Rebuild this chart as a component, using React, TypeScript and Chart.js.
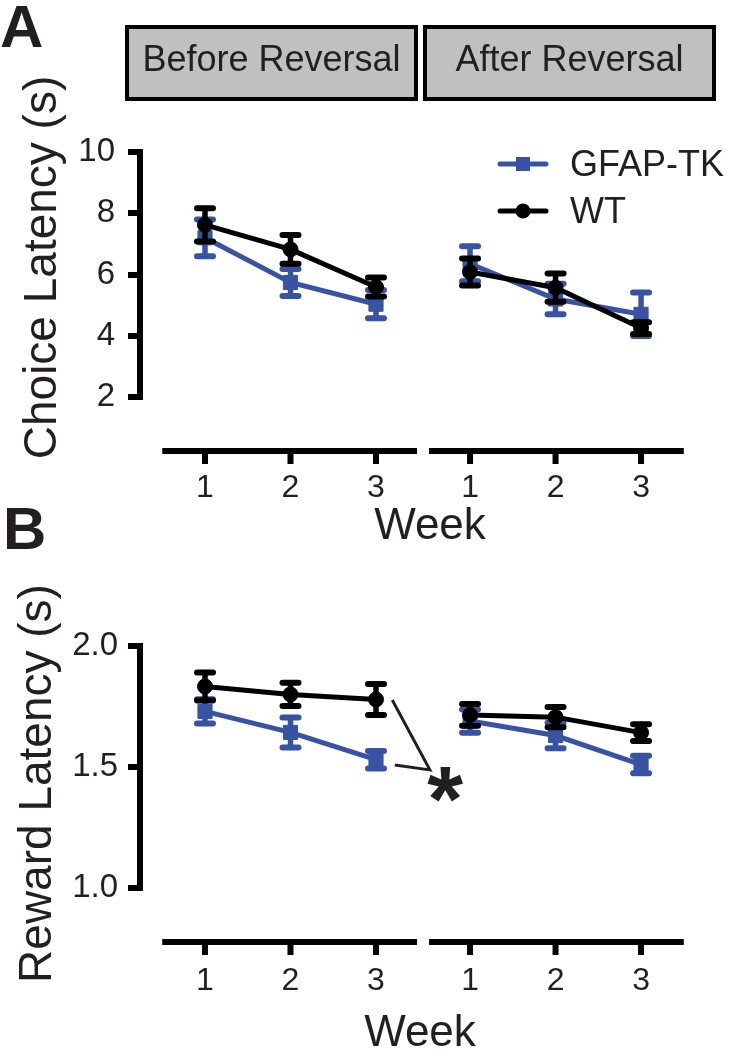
import React, { useEffect, useRef } from "react";
import { Chart, registerables } from "chart.js";

Chart.register(...registerables);

// ---------------- data ----------------
const weekTickLabels = ["1", "2", "3", "1", "2", "3"];
const beforeWeeks = [1, 2, 3];
const afterWeeks = [4.1, 5.1, 6.1];
const weekPositions = [...beforeWeeks, ...afterWeeks];

const choiceYTicks = [2, 4, 6, 8, 10];
const rewardYTicks = [1.0, 1.5, 2.0];

const choiceGfapBefore = [7.2, 5.74, 5.03];
const choiceGfapBeforeSem = [0.6, 0.44, 0.46];
const choiceGfapAfter = [6.35, 5.2, 4.7];
const choiceGfapAfterSem = [0.57, 0.5, 0.71];
const choiceWtBefore = [7.62, 6.82, 5.59];
const choiceWtBeforeSem = [0.54, 0.47, 0.31];
const choiceWtAfter = [6.08, 5.57, 4.25];
const choiceWtAfterSem = [0.44, 0.46, 0.19];

const rewardGfapBefore = [1.73, 1.643, 1.53];
const rewardGfapBeforeSem = [0.05, 0.062, 0.036];
const rewardGfapAfter = [1.69, 1.63, 1.51];
const rewardGfapAfterSem = [0.048, 0.053, 0.036];
const rewardWtBefore = [1.833, 1.8, 1.779];
const rewardWtBeforeSem = [0.058, 0.048, 0.064];
const rewardWtAfter = [1.715, 1.706, 1.642];
const rewardWtAfterSem = [0.045, 0.042, 0.035];

const headerLabels = ["Before Reversal", "After Reversal"];
const seriesNames = ["GFAP-TK", "WT"];

// significance annotation (value space of panel B)
const sigBracket = [
  [3.19, 1.777],
  [3.63, 1.488],
  [3.22, 1.508],
];
const sigStarPos = [3.81, 1.426];

// ---------------- style ----------------
const BLUE = "#3953a4";
const BLACK = "#000000";
const INK = "#231f20";
const FONT = "'Liberation Sans', Arial, Helvetica, sans-serif";
const PLOT_LEFT = 140;
const WEEK1_PX = 205;
const PX_PER_WEEK = 85.5;
const axisSegments = [
  [0.5, 3.48],
  [3.62, 6.6],
];

function series(label: string, xs: number[], ys: number[], errs: number[], color: string, pointStyle: string, order: number) {
  const r = pointStyle === "rect" ? 10 : 7.5;
  return {
    label,
    data: xs.map((x, i) => ({ x, y: ys[i] })),
    errors: errs,
    borderColor: color,
    backgroundColor: color,
    pointBackgroundColor: color,
    pointBorderColor: color,
    pointBorderWidth: 1,
    borderWidth: 5,
    pointStyle,
    pointRadius: r,
    pointHoverRadius: r,
    tension: 0,
    fill: false,
    order,
  };
}

function drawErrorBars(chart: any, args: any) {
  const ds = chart.data.datasets[args.index];
  const errs: number[] | undefined = ds.errors;
  if (!errs) return;
  const ys = chart.scales.y;
  const ctx = chart.ctx;
  ctx.save();
  ctx.strokeStyle = ds.borderColor;
  ctx.lineCap = "round";
  args.meta.data.forEach((el: any, i: number) => {
    const v = ds.data[i].y;
    const e = errs[i];
    const top = ys.getPixelForValue(v + e);
    const bot = ys.getPixelForValue(v - e);
    ctx.lineWidth = 5.5;
    ctx.beginPath();
    ctx.moveTo(el.x, top);
    ctx.lineTo(el.x, bot);
    ctx.stroke();
    ctx.lineWidth = 6;
    ctx.beginPath();
    ctx.moveTo(el.x - 8, top);
    ctx.lineTo(el.x + 8, top);
    ctx.moveTo(el.x - 8, bot);
    ctx.lineTo(el.x + 8, bot);
    ctx.stroke();
  });
  ctx.restore();
}

function drawBrokenXAxis(chart: any, offset: number) {
  const xs = chart.scales.x;
  const ctx = chart.ctx;
  const yPix = chart.chartArea.bottom + offset;
  ctx.save();
  ctx.strokeStyle = BLACK;
  ctx.lineWidth = 6;
  ctx.lineCap = "butt";
  ctx.beginPath();
  axisSegments.forEach(([a, b]) => {
    ctx.moveTo(xs.getPixelForValue(a), yPix);
    ctx.lineTo(xs.getPixelForValue(b), yPix);
  });
  weekPositions.forEach((v) => {
    const px = xs.getPixelForValue(v);
    ctx.moveTo(px, yPix);
    ctx.lineTo(px, yPix + 13);
  });
  ctx.stroke();
  ctx.restore();
}

function drawYTitle(ctx: CanvasRenderingContext2D, text: string, baseX: number, centerY: number) {
  ctx.save();
  ctx.translate(baseX, centerY);
  ctx.rotate(-Math.PI / 2);
  ctx.fillStyle = INK;
  ctx.font = `46px ${FONT}`;
  ctx.textAlign = "center";
  ctx.textBaseline = "alphabetic";
  ctx.fillText(text, 0, 0);
  ctx.restore();
}

function drawLetter(ctx: CanvasRenderingContext2D, letter: string, x: number, baseY: number) {
  ctx.save();
  ctx.fillStyle = INK;
  ctx.font = `bold 60px ${FONT}`;
  ctx.textAlign = "left";
  ctx.textBaseline = "alphabetic";
  ctx.fillText(letter, x, baseY);
  ctx.restore();
}

function drawHeader(ctx: CanvasRenderingContext2D) {
  const boxes = [
    [125, 418],
    [423, 716],
  ];
  const top = 25;
  const bottom = 101;
  ctx.save();
  boxes.forEach(([l, r], i) => {
    ctx.fillStyle = "#c0c0c0";
    ctx.fillRect(l, top, r - l, bottom - top);
    ctx.strokeStyle = BLACK;
    ctx.lineWidth = 4;
    ctx.strokeRect(l + 2, top + 2, r - l - 4, bottom - top - 4);
    ctx.fillStyle = INK;
    ctx.font = `36px ${FONT}`;
    ctx.textAlign = "center";
    ctx.textBaseline = "middle";
    ctx.fillText(headerLabels[i], (l + r) / 2, 61);
  });
  ctx.restore();
}

function drawLegend(ctx: CanvasRenderingContext2D) {
  ctx.save();
  const rows = [
    { y: 164, color: BLUE, marker: "rect", text: seriesNames[0] },
    { y: 211, color: BLACK, marker: "circle", text: seriesNames[1] },
  ];
  rows.forEach((r) => {
    ctx.strokeStyle = r.color;
    ctx.fillStyle = r.color;
    ctx.lineWidth = 5;
    ctx.lineCap = "round";
    ctx.beginPath();
    ctx.moveTo(500, r.y);
    ctx.lineTo(546, r.y);
    ctx.stroke();
    if (r.marker === "rect") {
      ctx.fillRect(523 - 7, r.y - 7, 14, 14);
    } else {
      ctx.beginPath();
      ctx.arc(523, r.y, 7.5, 0, Math.PI * 2);
      ctx.fill();
    }
    ctx.fillStyle = INK;
    ctx.font = `36px ${FONT}`;
    ctx.textAlign = "left";
    ctx.textBaseline = "middle";
    ctx.fillText(r.text, 570, r.y + 2);
  });
  ctx.restore();
}

function drawSignificance(chart: any) {
  const ctx = chart.ctx;
  const xs = chart.scales.x;
  const ys = chart.scales.y;
  const p = sigBracket.map(([x, y]) => [xs.getPixelForValue(x), ys.getPixelForValue(y)]);
  ctx.save();
  ctx.strokeStyle = INK;
  ctx.lineWidth = 3;
  ctx.lineJoin = "miter";
  ctx.beginPath();
  ctx.moveTo(p[0][0], p[0][1]);
  ctx.lineTo(p[1][0], p[1][1]);
  ctx.lineTo(p[2][0], p[2][1]);
  ctx.stroke();
  // asterisk
  const cx = xs.getPixelForValue(sigStarPos[0]);
  const cy = ys.getPixelForValue(sigStarPos[1]);
  ctx.font = `bold 100px ${FONT}`;
  ctx.textAlign = "left";
  ctx.textBaseline = "alphabetic";
  const m = ctx.measureText("*");
  const h = m.actualBoundingBoxAscent + m.actualBoundingBoxDescent;
  const scale = 35 / h;
  ctx.font = `bold ${100 * scale}px ${FONT}`;
  const m2 = ctx.measureText("*");
  const left = m2.actualBoundingBoxLeft;
  const right = m2.actualBoundingBoxRight;
  const asc = m2.actualBoundingBoxAscent;
  const desc = m2.actualBoundingBoxDescent;
  const bx = cx - (right - left) / 2;
  const by = cy - (desc - asc) / 2;
  ctx.fillStyle = INK;
  ctx.fillText("*", bx, by);
  ctx.restore();
}

type Panel = {
  height: number;
  chartRight: number;
  padTop: number;
  plotBottom: number;
  yMin: number;
  yMax: number;
  yTicks: number[];
  yFmt: (v: number) => string;
  yLabelPad: number;
  xLabelPad: number;
  titlePadBottom: number;
  datasets: any[];
  yTitle: string;
  yTitleX: number;
  yTitleY: number;
  letter: string;
  letterX: number;
  letterY: number;
  extras: (chart: any) => void;
};

function buildConfig(p: Panel): any {
  const xMin = 1 - (WEEK1_PX - PLOT_LEFT) / PX_PER_WEEK;
  const xMax = xMin + (p.chartRight - PLOT_LEFT) / PX_PER_WEEK;
  const plugin = {
    id: "panelDecor" + p.letter,
    afterDatasetDraw: (chart: any, args: any) => drawErrorBars(chart, args),
    afterDraw: (chart: any) => {
      const ctx = chart.ctx;
      drawBrokenXAxis(chart, 54);
      drawYTitle(ctx, p.yTitle, p.yTitleX, p.yTitleY);
      drawLetter(ctx, p.letter, p.letterX, p.letterY);
      p.extras(chart);
    },
  };
  return {
    type: "line",
    data: { datasets: p.datasets },
    plugins: [plugin],
    options: {
      responsive: false,
      animation: false,
      devicePixelRatio: 1,
      events: [],
      layout: { padding: { top: p.padTop, right: 734 - p.chartRight, left: 0, bottom: 0 } },
      plugins: { legend: { display: false }, tooltip: { enabled: false } },
      scales: {
        x: {
          type: "linear",
          min: xMin,
          max: xMax,
          afterBuildTicks: (s: any) => {
            s.ticks = weekPositions.map((v) => ({ value: v }));
          },
          afterFit: (s: any) => {
            s.height = p.height - p.plotBottom;
          },
          ticks: {
            autoSkip: false,
            maxRotation: 0,
            padding: p.xLabelPad,
            color: INK,
            font: { family: FONT, size: 32 },
            callback: (v: number) => {
              const i = weekPositions.indexOf(v);
              return i >= 0 ? weekTickLabels[i] : "";
            },
          },
          grid: { display: false, drawTicks: false },
          border: { display: false },
          title: {
            display: true,
            text: "Week",
            color: INK,
            font: { family: FONT, size: 44 },
            padding: { top: 0, bottom: p.titlePadBottom },
          },
        },
        y: {
          type: "linear",
          min: p.yMin,
          max: p.yMax,
          afterBuildTicks: (s: any) => {
            s.ticks = p.yTicks.map((v) => ({ value: v }));
          },
          afterFit: (s: any) => {
            s.width = PLOT_LEFT;
          },
          ticks: {
            padding: p.yLabelPad,
            color: INK,
            font: { family: FONT, size: 33 },
            callback: (v: number) => p.yFmt(v),
          },
          grid: {
            display: true,
            drawOnChartArea: false,
            drawTicks: true,
            tickLength: 12,
            lineWidth: 6,
            color: BLACK,
          },
          border: { display: true, width: 6, color: BLACK },
        },
      },
    },
  };
}

const panelA: Panel = {
  height: 560,
  chartRight: 720,
  padTop: 152,
  plotBottom: 397,
  yMin: 2,
  yMax: 10,
  yTicks: choiceYTicks,
  yFmt: (v) => String(v),
  yLabelPad: 13,
  xLabelPad: 72,
  titlePadBottom: 7,
  datasets: [
    series(seriesNames[1], beforeWeeks, choiceWtBefore, choiceWtBeforeSem, BLACK, "circle", 0),
    series(seriesNames[1], afterWeeks, choiceWtAfter, choiceWtAfterSem, BLACK, "circle", 0),
    series(seriesNames[0], beforeWeeks, choiceGfapBefore, choiceGfapBeforeSem, BLUE, "rect", 1),
    series(seriesNames[0], afterWeeks, choiceGfapAfter, choiceGfapAfterSem, BLUE, "rect", 1),
  ],
  yTitle: "Choice Latency (s)",
  yTitleX: 56,
  yTitleY: 267.5,
  letter: "A",
  letterX: 0,
  letterY: 47,
  extras: (chart) => {
    drawHeader(chart.ctx);
    drawLegend(chart.ctx);
  },
};

const panelB: Panel = {
  height: 560,
  chartRight: 700,
  padTop: 146,
  plotBottom: 388,
  yMin: 1,
  yMax: 2,
  yTicks: rewardYTicks,
  yFmt: (v) => v.toFixed(1),
  yLabelPad: 10,
  xLabelPad: 74,
  titlePadBottom: 0,
  datasets: [
    series(seriesNames[1], beforeWeeks, rewardWtBefore, rewardWtBeforeSem, BLACK, "circle", 0),
    series(seriesNames[1], afterWeeks, rewardWtAfter, rewardWtAfterSem, BLACK, "circle", 0),
    series(seriesNames[0], beforeWeeks, rewardGfapBefore, rewardGfapBeforeSem, BLUE, "rect", 1),
    series(seriesNames[0], afterWeeks, rewardGfapAfter, rewardGfapAfterSem, BLUE, "rect", 1),
  ],
  yTitle: "Reward Latency (s)",
  yTitleX: 51,
  yTitleY: 283.5,
  letter: "B",
  letterX: 3,
  letterY: 49,
  extras: (chart) => drawSignificance(chart),
};

export default function App() {
  const refA = useRef<HTMLCanvasElement>(null);
  const refB = useRef<HTMLCanvasElement>(null);
  useEffect(() => {
    const a = new Chart(refA.current as HTMLCanvasElement, buildConfig(panelA));
    const b = new Chart(refB.current as HTMLCanvasElement, buildConfig(panelB));
    return () => {
      a.destroy();
      b.destroy();
    };
  }, []);
  return (
    <div
      style={{
        position: "absolute",
        left: 0,
        top: 0,
        width: 734,
        height: 1050,
        overflow: "hidden",
        background: "#ffffff",
      }}
    >
      <canvas ref={refA} width={734} height={560} style={{ position: "absolute", left: 0, top: 0 }} />
      <canvas ref={refB} width={734} height={560} style={{ position: "absolute", left: 0, top: 500 }} />
    </div>
  );
}
